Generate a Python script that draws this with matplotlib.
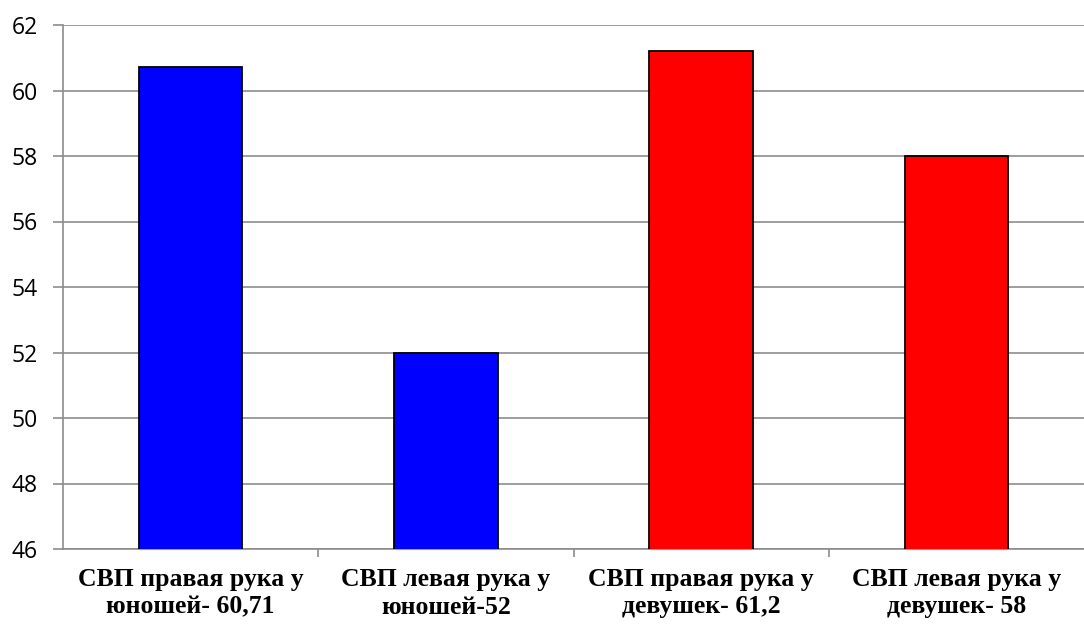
import matplotlib
matplotlib.use("Agg")
import matplotlib.pyplot as plt
import matplotlib.transforms as mtransforms

categories = ["СВП правая рука у\nюношей- 60,71", "СВП левая рука у\nюношей-52",
              "СВП правая рука у\nдевушек- 61,2", "СВП левая рука у\nдевушек- 58"]
values = [60.71, 52, 61.2, 58]
colors = ["#0000FF", "#0000FF", "#FF0000", "#FF0000"]
yticks = [46, 48, 50, 52, 54, 56, 58, 60, 62]

fig = plt.figure(figsize=(10.84, 6.25), dpi=100)
ax = fig.add_axes([63/1084, 1-549/625, 1-63/1084, (549-25)/625])

x = range(len(values))
ax.bar(x, values, width=0.405, color=colors, edgecolor="black", linewidth=1.3, zorder=3)

ax.set_ylim(46, 62)
ax.set_xlim(-0.5, len(values)-0.5)
ax.set_yticks(yticks)
ax.set_yticklabels([str(v) for v in yticks], fontsize=16.5, family="Open Sans")
ax.yaxis.grid(True, color="#8c8c8c", linewidth=1.2, zorder=0)
ax.set_axisbelow(True)

ax.set_xticks([i + 0.5 for i in range(len(values) - 1)])
ax.set_xticklabels([])
ax.tick_params(axis="x", length=6, width=1.2, color="#8c8c8c", direction="out")
ax.tick_params(axis="y", length=7, width=1.2, color="#8c8c8c", direction="out", pad=11)

off = mtransforms.offset_copy(ax.transData, fig=fig, y=-19, units="dots")
for i, lab in enumerate(categories):
    ax.text(i, 46, lab, transform=off, ha="center", va="top",
            fontsize=18.5, fontweight="bold", family="Liberation Serif",
            linespacing=1.25)

for s in ["top", "right"]:
    ax.spines[s].set_visible(False)
for s in ["left", "bottom"]:
    ax.spines[s].set_color("#8c8c8c")
    ax.spines[s].set_linewidth(1.2)

fig.savefig("out.png", dpi=100)
